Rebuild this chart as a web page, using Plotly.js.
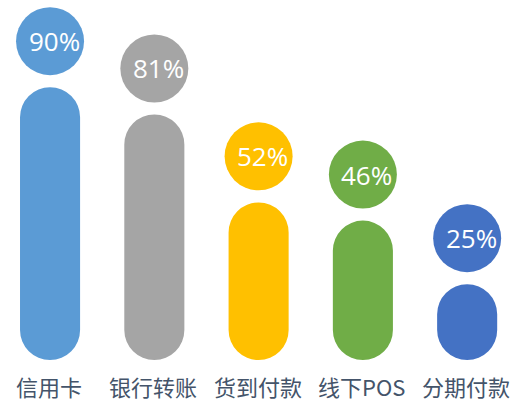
<!DOCTYPE html>
<html><head><meta charset="utf-8">
<script src="https://cdn.plot.ly/plotly-3.0.1.min.js"></script>
<style>html,body{margin:0;padding:0;background:#fff}#c{width:512px;height:402px}</style>
</head><body><div id="c"></div>
<script>
var categories = ['信用卡','银行转账','货到付款','线下POS','分期付款'];
var values = [90, 81, 52, 46, 25];
var colors = ['#5B9BD5','#A5A5A5','#FFC000','#70AD47','#4472C4'];
var labels = values.map(function(v){return v + '%';});

var xs = categories.map(function(c,i){return i;});
var circleOffset = 15.2;

var bars = {type:'bar', x:xs, y:values, base:values.map(function(){return 0;}), width:0.576,
  marker:{color:colors, cornerradius:'50%'}, hoverinfo:'skip'};
var circles = {type:'scatter', mode:'markers', x:xs,
  y:values.map(function(v){return v + circleOffset;}),
  marker:{size:68, color:colors, line:{width:0}},
  hoverinfo:'skip', cliponaxis:false};

var annotations = categories.map(function(c,i){
  return {x:i, xref:'x', y:-0.072, yref:'paper', text:c, showarrow:false,
    xanchor:'center', yanchor:'middle', xshift:-1,
    font:{family:'Noto Sans CJK SC, sans-serif', size:22, color:'#44546A'}};
}).concat(labels.map(function(t,i){
  return {x:i, xref:'x', y:values[i] + circleOffset, yref:'y', text:t, showarrow:false,
    xanchor:'center', yanchor:'middle', xshift:4,
    font:{family:'Open Sans, sans-serif', size:26, color:'#ffffff'}};
}));

var layout = {
  width:512, height:402,
  margin:{l:0, r:0, t:0, b:42, pad:0},
  paper_bgcolor:'#ffffff', plot_bgcolor:'#ffffff',
  barmode:'overlay', showlegend:false,
  xaxis:{range:[-0.48, 4.43], showgrid:false, zeroline:false, showticklabels:false, showline:false, fixedrange:true},
  yaxis:{range:[0, 118.8], showgrid:false, zeroline:false, showticklabels:false, showline:false, fixedrange:true},
  annotations:annotations
};
Plotly.newPlot('c', [bars, circles], layout, {displayModeBar:false, staticPlot:true});
</script></body></html>
